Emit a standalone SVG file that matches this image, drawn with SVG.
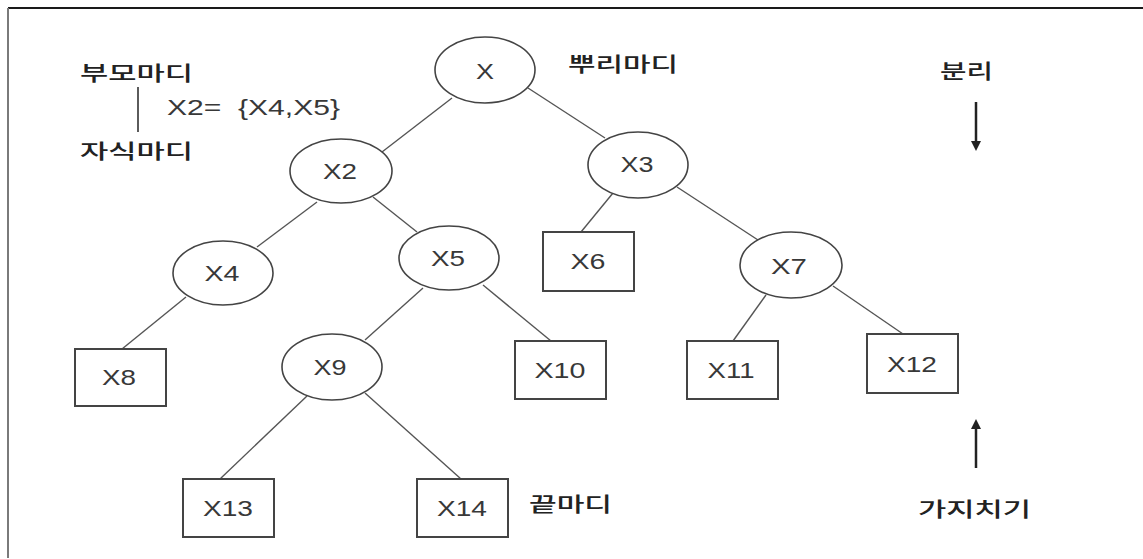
<svg xmlns="http://www.w3.org/2000/svg" width="1143" height="559" viewBox="0 0 1143 559">
  <style>
    .frame-top { stroke: #1a1a1a; stroke-width: 2; }
    .frame-left { stroke: #7a7a7a; stroke-width: 2; }
    .edge { stroke: #555; stroke-width: 1.4; fill: none; }
    .inner { fill: #fff; stroke: #444; stroke-width: 1.6; }
    .leaf { fill: #fff; stroke: #444; stroke-width: 2; }
    .lbl { font-family: "Liberation Sans", Arial, sans-serif; font-size: 22px; fill: #383838; text-anchor: middle; }
    .ko { font-family: "Noto Sans CJK KR", "Noto Sans", sans-serif; font-size: 20px; font-weight: 500; fill: #222; }
    .arrow { stroke: #222; stroke-width: 2.5; }
    .bar { stroke: #333; stroke-width: 1.6; }
  </style>
  <defs>
    <marker id="head" viewBox="0 0 10 10" refX="5" refY="5" markerWidth="4" markerHeight="4" orient="auto-start-reverse" markerUnits="strokeWidth">
      <path d="M0,0 L10,5 L0,10 z" fill="#222"/>
    </marker>
  </defs>

  <rect width="1143" height="559" fill="#fff"/>

  <!-- outer frame: top and left rules only -->
  <line class="frame-top" x1="8" y1="8" x2="1143" y2="8"/>
  <line class="frame-left" x1="8" y1="8" x2="8" y2="558"/>

  <!-- tree connectors -->
  <g id="connectors">
    <line class="edge" x1="452" y1="98" x2="382" y2="152"/>
    <line class="edge" x1="528" y1="88" x2="605" y2="138"/>
    <line class="edge" x1="317" y1="202" x2="257" y2="247"/>
    <line class="edge" x1="373" y1="197" x2="417" y2="232"/>
    <line class="edge" x1="613" y1="193" x2="581" y2="232"/>
    <line class="edge" x1="677" y1="187" x2="758" y2="240"/>
    <line class="edge" x1="186" y1="297" x2="122" y2="349"/>
    <line class="edge" x1="423" y1="288" x2="365" y2="340"/>
    <line class="edge" x1="483" y1="285" x2="551" y2="341"/>
    <line class="edge" x1="766" y1="295" x2="733" y2="341"/>
    <line class="edge" x1="833" y1="286" x2="903" y2="334"/>
    <line class="edge" x1="307" y1="396" x2="220" y2="479"/>
    <line class="edge" x1="365" y1="393" x2="461" y2="479"/>
  </g>

  <!-- internal nodes -->
  <g id="node-X"><ellipse class="inner" cx="485" cy="70" rx="50" ry="33"/><text class="lbl" x="485" y="79" textLength="18" lengthAdjust="spacingAndGlyphs">X</text></g>
  <g id="node-X2"><ellipse class="inner" cx="341" cy="171" rx="51" ry="32"/><text class="lbl" x="340" y="179" textLength="34" lengthAdjust="spacingAndGlyphs">X2</text></g>
  <g id="node-X3"><ellipse class="inner" cx="638" cy="165" rx="50" ry="33"/><text class="lbl" x="637" y="172" textLength="33" lengthAdjust="spacingAndGlyphs">X3</text></g>
  <g id="node-X4"><ellipse class="inner" cx="223" cy="273" rx="50" ry="32"/><text class="lbl" x="222" y="281" textLength="35" lengthAdjust="spacingAndGlyphs">X4</text></g>
  <g id="node-X5"><ellipse class="inner" cx="449" cy="258" rx="50" ry="32"/><text class="lbl" x="448" y="266" textLength="34" lengthAdjust="spacingAndGlyphs">X5</text></g>
  <g id="node-X7"><ellipse class="inner" cx="791" cy="265" rx="51" ry="33"/><text class="lbl" x="789" y="274" textLength="36" lengthAdjust="spacingAndGlyphs">X7</text></g>
  <g id="node-X9"><ellipse class="inner" cx="332" cy="367" rx="50" ry="33"/><text class="lbl" x="330" y="375" textLength="33" lengthAdjust="spacingAndGlyphs">X9</text></g>

  <!-- leaf nodes -->
  <g id="node-X6"><rect class="leaf" x="543" y="232" width="91" height="59"/><text class="lbl" x="588" y="269" textLength="35" lengthAdjust="spacingAndGlyphs">X6</text></g>
  <g id="node-X8"><rect class="leaf" x="75" y="349" width="91" height="57"/><text class="lbl" x="119" y="385" textLength="34" lengthAdjust="spacingAndGlyphs">X8</text></g>
  <g id="node-X10"><rect class="leaf" x="515" y="341" width="91" height="58"/><text class="lbl" x="560" y="378" textLength="51" lengthAdjust="spacingAndGlyphs">X10</text></g>
  <g id="node-X11"><rect class="leaf" x="687" y="341" width="91" height="58"/><text class="lbl" x="731" y="378" textLength="47" lengthAdjust="spacingAndGlyphs">X11</text></g>
  <g id="node-X12"><rect class="leaf" x="867" y="334" width="91" height="59"/><text class="lbl" x="912" y="372" textLength="50" lengthAdjust="spacingAndGlyphs">X12</text></g>
  <g id="node-X13"><rect class="leaf" x="183" y="479" width="91" height="58"/><text class="lbl" x="228" y="516" textLength="50" lengthAdjust="spacingAndGlyphs">X13</text></g>
  <g id="node-X14"><rect class="leaf" x="417" y="479" width="91" height="58"/><text class="lbl" x="462" y="516" textLength="50" lengthAdjust="spacingAndGlyphs">X14</text></g>

  <!-- legend: parent / child relation -->
  <g id="legend">
    <text class="ko" x="80" y="81" textLength="113" lengthAdjust="spacingAndGlyphs">부모마디</text>
    <line class="bar" x1="138" y1="87" x2="138" y2="132"/>
    <text class="lbl" x="167" y="115" style="text-anchor:start" textLength="173" lengthAdjust="spacingAndGlyphs" xml:space="preserve">X2=  {X4,X5}</text>
    <text class="ko" x="80" y="159" textLength="113" lengthAdjust="spacingAndGlyphs">자식마디</text>
  </g>

  <!-- annotations -->
  <g id="annotations">
    <text class="ko" x="568" y="72" textLength="110" lengthAdjust="spacingAndGlyphs">뿌리마디</text>
    <text class="ko" x="529" y="512" textLength="83" lengthAdjust="spacingAndGlyphs">끝마디</text>
    <text class="ko" x="940" y="79" textLength="53" lengthAdjust="spacingAndGlyphs">분리</text>
    <line class="arrow" x1="976" y1="102" x2="976" y2="146" marker-end="url(#head)"/>
    <line class="arrow" x1="976" y1="468" x2="976" y2="424" marker-end="url(#head)"/>
    <text class="ko" x="918" y="517" textLength="113" lengthAdjust="spacingAndGlyphs">가지치기</text>
  </g>
</svg>
